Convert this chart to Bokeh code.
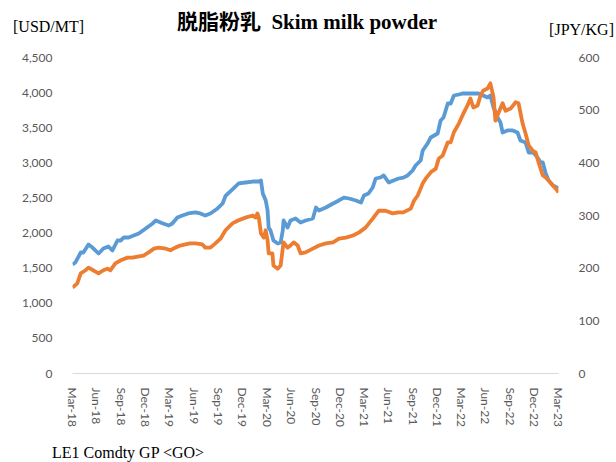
import pandas as pd
from bokeh.plotting import figure
from bokeh.layouts import column
from bokeh.models import (Range1d, LinearAxis, FixedTicker, NumeralTickFormatter,
                          DatetimeTickFormatter, Div)
from bokeh.embed import file_html
from bokeh.resources import INLINE

# ---------------- data ----------------
usd_dates = [
    "2018-03-01", "2018-03-12", "2018-04-01", "2018-04-11", "2018-04-30", "2018-05-15",
    "2018-06-07", "2018-06-25", "2018-07-14", "2018-07-29", "2018-08-17", "2018-08-29",
    "2018-09-10", "2018-09-28", "2018-10-17", "2018-11-05", "2018-12-01", "2018-12-27",
    "2019-01-08", "2019-02-04", "2019-02-26", "2019-03-11", "2019-03-30", "2019-04-18",
    "2019-05-10", "2019-06-06", "2019-06-24", "2019-07-13", "2019-08-01", "2019-08-28",
    "2019-09-16", "2019-09-27", "2019-10-27", "2019-11-15", "2019-12-11", "2020-01-07",
    "2020-01-30", "2020-02-07", "2020-02-14", "2020-02-25", "2020-03-03", "2020-03-07",
    "2020-03-14", "2020-03-25", "2020-04-10", "2020-04-21", "2020-04-29", "2020-05-02",
    "2020-05-17", "2020-05-28", "2020-06-16", "2020-07-05", "2020-07-24", "2020-08-20",
    "2020-09-01", "2020-09-12", "2020-10-08", "2020-11-04", "2020-11-26", "2020-12-15",
    "2021-01-03", "2021-01-29", "2021-02-17", "2021-02-28", "2021-03-17", "2021-04-02",
    "2021-04-13", "2021-05-01", "2021-05-13", "2021-06-01", "2021-06-19", "2021-07-08",
    "2021-07-26", "2021-08-11", "2021-08-30", "2021-09-10", "2021-09-29", "2021-10-07",
    "2021-10-25", "2021-11-06", "2021-12-02", "2021-12-13", "2021-12-24", "2022-01-09",
    "2022-01-20", "2022-02-01", "2022-02-20", "2022-03-05", "2022-03-27", "2022-04-15",
    "2022-05-04", "2022-05-22", "2022-06-07", "2022-06-18", "2022-06-30", "2022-07-15",
    "2022-07-26", "2022-08-03", "2022-08-21", "2022-09-10", "2022-09-28", "2022-10-09",
    "2022-10-28", "2022-11-09", "2022-11-27", "2022-12-12", "2022-12-24", "2023-01-01",
    "2023-01-12", "2023-01-23", "2023-02-08", "2023-03-01",
]
usd_values = [
    1552, 1581, 1723, 1723, 1837, 1794,
    1709, 1780, 1809, 1752, 1894, 1894,
    1937, 1937, 1965, 1994, 2065, 2136,
    2179, 2136, 2108, 2136, 2222, 2250,
    2279, 2293, 2279, 2250, 2279, 2350,
    2421, 2530, 2635, 2706, 2720, 2734,
    2734, 2749, 2563, 2464, 2321, 2079,
    2036, 1894, 1851, 1866, 2036, 2179,
    2079, 2179, 2207, 2150, 2179, 2207,
    2364, 2321, 2364, 2421, 2464, 2506,
    2492, 2464, 2435, 2535, 2563, 2649,
    2777, 2791, 2820, 2720, 2749, 2777,
    2790, 2820, 2891, 2962, 3033, 3176,
    3275, 3361, 3418, 3603, 3646, 3845,
    3845, 3959, 3973, 3987, 3987, 3987,
    3987, 3959, 3931, 3959, 3788, 3646,
    3574, 3432, 3461, 3461, 3432, 3318,
    3290, 3147, 3147, 3076, 3005, 3005,
    2850, 2750, 2677, 2635,
]

jpy_dates = [
    "2018-03-01", "2018-03-19", "2018-04-01", "2018-04-19", "2018-04-30", "2018-05-18",
    "2018-06-07", "2018-06-25", "2018-07-10", "2018-07-21", "2018-08-09", "2018-08-29",
    "2018-09-24", "2018-10-12", "2018-11-01", "2018-11-23", "2018-12-12", "2019-01-01",
    "2019-01-19", "2019-02-15", "2019-03-04", "2019-03-22", "2019-04-10", "2019-04-29",
    "2019-05-17", "2019-06-06", "2019-07-02", "2019-07-13", "2019-08-01", "2019-08-20",
    "2019-09-08", "2019-09-27", "2019-10-23", "2019-11-15", "2019-12-11", "2020-01-07",
    "2020-01-18", "2020-01-25", "2020-01-30", "2020-02-07", "2020-02-18", "2020-02-25",
    "2020-03-03", "2020-03-07", "2020-03-21", "2020-03-25", "2020-04-10", "2020-04-21",
    "2020-05-02", "2020-05-17", "2020-05-28", "2020-06-09", "2020-06-24", "2020-07-05",
    "2020-07-24", "2020-08-20", "2020-09-12", "2020-10-08", "2020-11-04", "2020-11-26",
    "2020-12-22", "2021-01-18", "2021-02-10", "2021-03-06", "2021-04-02", "2021-04-24",
    "2021-05-20", "2021-06-16", "2021-07-08", "2021-07-26", "2021-08-23", "2021-09-04",
    "2021-09-18", "2021-10-07", "2021-10-18", "2021-11-06", "2021-11-25", "2021-12-06",
    "2021-12-21", "2022-01-09", "2022-01-20", "2022-02-01", "2022-02-20", "2022-03-09",
    "2022-03-24", "2022-04-04", "2022-04-15", "2022-05-01", "2022-05-12", "2022-05-22",
    "2022-06-07", "2022-06-18", "2022-06-30", "2022-07-07", "2022-07-18", "2022-08-03",
    "2022-08-14", "2022-09-02", "2022-09-21", "2022-10-02", "2022-10-17", "2022-10-28",
    "2022-11-09", "2022-11-24", "2022-12-05", "2022-12-16", "2023-01-01", "2023-01-12",
    "2023-01-23", "2023-02-08", "2023-02-19", "2023-03-01",
]
jpy_values = [
    163, 171, 190, 196, 201, 196,
    190, 196, 199, 196, 209, 215,
    220, 220, 222, 224, 230, 237,
    239, 237, 234, 239, 243, 245,
    247, 247, 245, 239, 239, 247,
    256, 272, 285, 291, 296, 300,
    296, 304, 296, 266, 258, 272,
    253, 228, 228, 205, 199, 205,
    249, 239, 243, 249, 243, 228,
    230, 237, 243, 247, 249, 256,
    258, 262, 268, 277, 294, 309,
    309, 304, 306, 306, 313, 328,
    338, 361, 370, 382, 389, 408,
    414, 439, 439, 458, 475, 494,
    509, 522, 505, 509, 528, 537,
    541, 551, 524, 480, 494, 513,
    499, 503, 515, 513, 475, 456,
    433, 423, 420, 401, 376, 372,
    366, 357, 351, 344,
]

x_tick_dates = [
    "2018-03-01", "2018-06-01", "2018-09-01", "2018-12-01",
    "2019-03-01", "2019-06-01", "2019-09-01", "2019-12-01",
    "2020-03-01", "2020-06-01", "2020-09-01", "2020-12-01",
    "2021-03-01", "2021-06-01", "2021-09-01", "2021-12-01",
    "2022-03-01", "2022-06-01", "2022-09-01", "2022-12-01",
    "2023-03-01",
]
usd_ticks = [0, 500, 1000, 1500, 2000, 2500, 3000, 3500, 4000, 4500]
jpy_ticks = [0, 100, 200, 300, 400, 500, 600]

title_text = "脱脂粉乳&nbsp;&nbsp;Skim milk powder"
left_unit = "[USD/MT]"
right_unit = "[JPY/KG]"
footer_text = "LE1 Comdty GP &lt;GO&gt;"

# ---------------- figure ----------------
ud = pd.to_datetime(usd_dates)
jd = pd.to_datetime(jpy_dates)
td = pd.to_datetime(x_tick_dates)
tick_ms = [t.value // 10**6 for t in td]

W = 616
TOP_H, MAIN_H, BOT_H = 45, 395, 22
serif = "'Liberation Serif', 'Noto Sans CJK JP', serif"

def span(text, css):
    return ('<span style="position:absolute;white-space:nowrap;line-height:1;color:#000;'
            f'font-family:{serif};{css}">{text}</span>')

top_html = (f'<div style="position:relative;width:{W}px;height:{TOP_H}px;margin:0;padding:0;">'
            + span(left_unit, "left:13px;top:19px;font-size:16px;")
            + span(title_text, "left:307px;top:12px;font-size:21px;font-weight:bold;transform:translateX(-50%);")
            + span(right_unit, "right:2px;top:22px;font-size:16px;")
            + '</div>')
bot_html = (f'<div style="position:relative;width:{W}px;height:{BOT_H}px;margin:0;padding:0;">'
            + span(footer_text, "left:52px;top:5px;font-size:16px;")
            + '</div>')

top = Div(text=top_html, width=W, height=TOP_H, margin=(0, 0, 0, 0))
bot = Div(text=bot_html, width=W, height=BOT_H, margin=(0, 0, 0, 0))

p = figure(width=W, height=MAIN_H, output_backend="svg", toolbar_location=None,
           x_axis_type="datetime", y_axis_location=None,
           x_range=Range1d(td[0], td[-1]), y_range=Range1d(0, 4500),
           min_border_left=72, min_border_right=58, min_border_top=12, min_border_bottom=67,
           margin=(0, 0, 0, 0))
p.extra_y_ranges = {"jpy": Range1d(0, 600)}
p.outline_line_color = None
p.xgrid.visible = False
p.ygrid.visible = False
p.background_fill_color = "white"
p.border_fill_color = "white"

lab_font = "Lato"
lab_col = "#595959"

yl = LinearAxis(ticker=FixedTicker(ticks=usd_ticks), formatter=NumeralTickFormatter(format="0,0"))
yr = LinearAxis(y_range_name="jpy", ticker=FixedTicker(ticks=jpy_ticks))
for ax in (yl, yr):
    ax.axis_line_color = None
    ax.major_tick_line_color = None
    ax.minor_tick_line_color = None
    ax.major_label_text_font = lab_font
    ax.major_label_text_font_size = "12px"
    ax.major_label_text_color = lab_col
    ax.major_label_standoff = 14
p.add_layout(yl, "left")
p.add_layout(yr, "right")

xa = p.xaxis[0]
xa.ticker = FixedTicker(ticks=tick_ms)
xa.formatter = DatetimeTickFormatter(days="%b-%y", months="%b-%y", years="%b-%y")
xa.major_label_orientation = "vertical"
xa.axis_line_color = "#D9D9D9"
xa.axis_line_width = 1
xa.major_tick_line_color = None
xa.minor_tick_line_color = None
xa.major_label_text_font = lab_font
xa.major_label_text_font_size = "12px"
xa.major_label_text_color = lab_col
xa.major_label_standoff = 8

p.line(ud, usd_values, line_color="#5B9BD5", line_width=3.8, line_join="round")
p.line(jd, jpy_values, line_color="#ED7D31", line_width=3.8, line_join="round", y_range_name="jpy")

layout = column(top, p, bot, spacing=0)
open("out.html", "w").write(file_html(layout, INLINE))
